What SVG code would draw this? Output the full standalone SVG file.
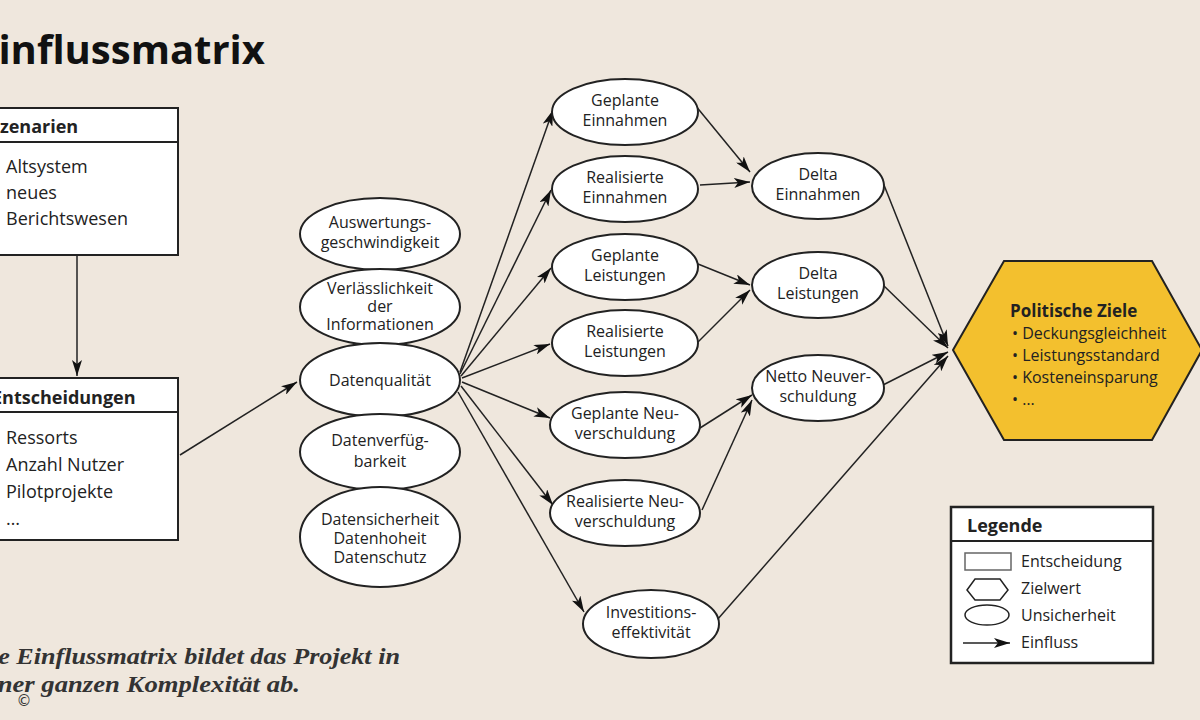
<svg xmlns="http://www.w3.org/2000/svg" width="1200" height="720" viewBox="0 0 1200 720">
<style>
.n{fill:#fff;stroke:#222;stroke-width:2}
.t{font-family:"Open Sans","Liberation Sans",sans-serif;font-size:16px;fill:#222;text-anchor:middle}
.l{font-family:"Open Sans","Liberation Sans",sans-serif;font-size:18px;fill:#222}
.h{font-family:"Open Sans","Liberation Sans",sans-serif;font-size:18px;font-weight:bold;fill:#222}
.c line,.c path{stroke:#222;stroke-width:1.5;fill:none;marker-end:url(#a)}
</style>
<defs><marker id="a" viewBox="0 0 16 10" refX="16" refY="5" markerWidth="16" markerHeight="10" markerUnits="userSpaceOnUse" orient="auto"><path d="M0,0 L16,5 L0,10 L4,5 Z" fill="#111"/></marker></defs>
<rect width="1200" height="720" fill="#efe7dd"/>
<text x="-24" y="64" font-family="Open Sans,Liberation Sans,sans-serif" font-size="40" font-weight="bold" fill="#111">Einflussmatrix</text>
<g class="c">
<line x1="77" y1="256" x2="77" y2="376"/>
<line x1="180" y1="455" x2="297" y2="382"/>
<line x1="460" y1="372" x2="553" y2="110"/>
<line x1="460" y1="374" x2="551" y2="190"/>
<line x1="461" y1="376" x2="551" y2="268"/>
<line x1="462" y1="378" x2="550" y2="344"/>
<line x1="462" y1="382" x2="550" y2="418"/>
<line x1="461" y1="386" x2="553" y2="505"/>
<line x1="458" y1="392" x2="584" y2="612"/>
<line x1="695" y1="105" x2="750" y2="172"/>
<line x1="700" y1="185" x2="750" y2="182"/>
<line x1="698" y1="264" x2="750" y2="285"/>
<line x1="698" y1="342" x2="750" y2="290"/>
<line x1="700" y1="428" x2="752" y2="395"/>
<line x1="702" y1="510" x2="752" y2="400"/>
<line x1="882" y1="180" x2="948" y2="346"/>
<line x1="883" y1="285" x2="948" y2="348"/>
<line x1="883" y1="385" x2="948" y2="352"/>
<line x1="717" y1="620" x2="948" y2="356"/>
</g>
<g id="szenarien"><rect class="n" x="-5" y="108" width="183" height="147"/><line x1="-5" y1="142" x2="178" y2="142" stroke="#222" stroke-width="2"/><text class="h" x="-10" y="133">Szenarien</text><text class="l" x="6" y="173">Altsystem</text><text class="l" x="6" y="199">neues</text><text class="l" x="6" y="225">Berichtswesen</text></g>
<g id="entscheidungen"><rect class="n" x="-5" y="378" width="183" height="162"/><line x1="-5" y1="412" x2="178" y2="412" stroke="#222" stroke-width="2"/><text class="h" x="-8" y="404">Entscheidungen</text><text class="l" x="6" y="444">Ressorts</text><text class="l" x="6" y="471">Anzahl Nutzer</text><text class="l" x="6" y="498">Pilotprojekte</text><text class="l" x="6" y="525">…</text></g>
<g id="auswertung"><ellipse class="n" cx="380" cy="234" rx="80" ry="36"/><text class="t" x="380" y="228">Auswertungs-</text><text class="t" x="380" y="248">geschwindigkeit</text></g>
<g id="verlaesslichkeit"><ellipse class="n" cx="380" cy="307" rx="80" ry="38"/><text class="t" x="380" y="294" font-size="15">Verlässlichkeit</text><text class="t" x="380" y="312" font-size="15">der</text><text class="t" x="380" y="330" font-size="15">Informationen</text></g>
<g id="datenqualitaet"><ellipse class="n" cx="380" cy="380" rx="80" ry="37"/><text class="t" x="380" y="386">Datenqualität</text></g>
<g id="datenverfuegbarkeit"><ellipse class="n" cx="380" cy="452" rx="80" ry="38"/><text class="t" x="380" y="446">Datenverfüg-</text><text class="t" x="380" y="467">barkeit</text></g>
<g id="datensicherheit"><ellipse class="n" cx="380" cy="537" rx="80" ry="50"/><text class="t" x="380" y="525">Datensicherheit</text><text class="t" x="380" y="544">Datenhoheit</text><text class="t" x="380" y="563">Datenschutz</text></g>
<g id="gE"><ellipse class="n" cx="625" cy="112" rx="73" ry="33"/><text class="t" x="625" y="106">Geplante</text><text class="t" x="625" y="126">Einnahmen</text></g>
<g id="rE"><ellipse class="n" cx="625" cy="189" rx="73" ry="33"/><text class="t" x="625" y="183">Realisierte</text><text class="t" x="625" y="203">Einnahmen</text></g>
<g id="gL"><ellipse class="n" cx="625" cy="267" rx="73" ry="33"/><text class="t" x="625" y="261">Geplante</text><text class="t" x="625" y="281">Leistungen</text></g>
<g id="rL"><ellipse class="n" cx="625" cy="343" rx="73" ry="33"/><text class="t" x="625" y="337">Realisierte</text><text class="t" x="625" y="357">Leistungen</text></g>
<g id="gN"><ellipse class="n" cx="625" cy="425" rx="75" ry="33"/><text class="t" x="625" y="419">Geplante Neu-</text><text class="t" x="625" y="439">verschuldung</text></g>
<g id="rN"><ellipse class="n" cx="625" cy="513" rx="75" ry="33"/><text class="t" x="625" y="507">Realisierte Neu-</text><text class="t" x="625" y="527">verschuldung</text></g>
<g id="inv"><ellipse class="n" cx="651" cy="624" rx="68" ry="34"/><text class="t" x="651" y="618">Investitions-</text><text class="t" x="651" y="638">effektivität</text></g>
<g id="dE"><ellipse class="n" cx="818" cy="186" rx="66" ry="33"/><text class="t" x="818" y="180">Delta</text><text class="t" x="818" y="200">Einnahmen</text></g>
<g id="dL"><ellipse class="n" cx="818" cy="285" rx="66" ry="33"/><text class="t" x="818" y="279">Delta</text><text class="t" x="818" y="299">Leistungen</text></g>
<g id="nN"><ellipse class="n" cx="818" cy="388" rx="66" ry="33"/><text class="t" x="818" y="382">Netto Neuver-</text><text class="t" x="818" y="402">schuldung</text></g>
<g id="ziele"><polygon points="953,350 1004,261 1152,261 1202,350 1152,440 1004,440" fill="#f3c02e" stroke="#222" stroke-width="2"/><text x="1010" y="317" font-family="Open Sans,Liberation Sans,sans-serif" font-size="17" font-weight="bold" fill="#222">Politische Ziele</text><g font-family="Open Sans,Liberation Sans,sans-serif" font-size="16" fill="#222"><text x="1012" y="339">• Deckungsgleichheit</text><text x="1012" y="361">• Leistungsstandard</text><text x="1012" y="383">• Kosteneinsparung</text><text x="1012" y="405">• …</text></g></g>
<g id="legende"><rect x="951" y="507" width="202" height="156" fill="#fff" stroke="#222" stroke-width="2.5"/><line x1="951" y1="541" x2="1153" y2="541" stroke="#222" stroke-width="2"/><text class="h" x="967" y="532" font-size="17">Legende</text>
<rect x="965" y="553" width="46" height="17" fill="#fff" stroke="#666" stroke-width="1.5"/>
<polygon points="967,590 975,579 1000,579 1008,590 1000,600 975,600" fill="#fff" stroke="#222" stroke-width="1.5"/>
<ellipse cx="987" cy="615" rx="22" ry="10" fill="#fff" stroke="#222" stroke-width="1.5"/>
<line x1="963" y1="643" x2="1010" y2="643" stroke="#222" stroke-width="1.5" marker-end="url(#a)"/>
<g font-family="Open Sans,Liberation Sans,sans-serif" font-size="16" fill="#222"><text x="1021" y="567">Entscheidung</text><text x="1021" y="594">Zielwert</text><text x="1021" y="621">Unsicherheit</text><text x="1021" y="648">Einfluss</text></g></g>
<g font-family="Liberation Serif,serif" font-size="23" font-style="italic" font-weight="bold" fill="#333"><text x="-28" y="664" textLength="428" lengthAdjust="spacingAndGlyphs">Die Einflussmatrix bildet das Projekt in</text><text x="-32" y="692" textLength="332" lengthAdjust="spacingAndGlyphs">seiner ganzen Komplexität ab.</text></g>
<text x="24" y="706" font-family="DejaVu Sans,sans-serif" font-size="15" fill="#333" text-anchor="middle">©</text>
</svg>
